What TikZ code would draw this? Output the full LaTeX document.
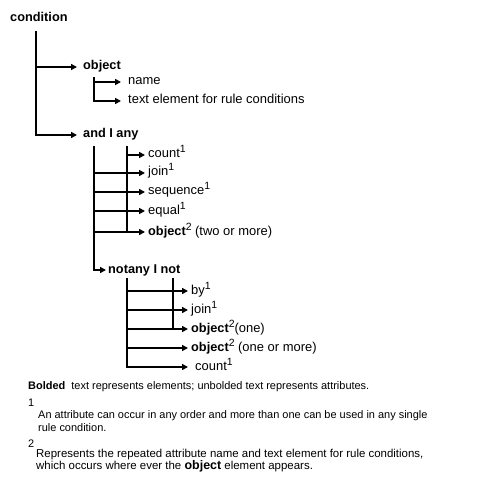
\documentclass[tikz,border=0pt]{standalone}
\usepackage{fontspec}
\setmainfont{Liberation Sans}
\usetikzlibrary{arrows.meta}
\newcommand{\elm}[1]{{\fontsize{12.8}{14}\selectfont\bfseries #1}}
\newcommand{\refnum}[1]{\raisebox{5bp}{\fontsize{10.5}{10}\selectfont #1}}

\begin{document}
\begin{tikzpicture}[x=1bp,y=-1bp,
        trunk/.style={line width=1.8bp},
        branch/.style={line width=1.8bp,-{Triangle[length=6bp,width=6bp]},shorten >=#1},
        branch/.default=3bp,
        elem/.style={anchor=west,inner sep=0pt,text height=9bp,text depth=3bp,font=\fontsize{12.8}{14}\selectfont\bfseries},
        attr/.style={anchor=west,inner sep=0pt,text height=9bp,text depth=3bp,font=\fontsize{13}{15}\selectfont},
        note/.style={anchor=west,inner sep=0pt,align=left,font=\fontsize{11}{13}\selectfont}]

        \useasboundingbox (0,0) rectangle (496,478);

        %condition
        \node[elem] (condition) at (10,19) {condition};
        \coordinate (c0) at (36,31);
        \coordinate (c1) at (36,67);
        \coordinate (c2) at (36,135);
        \node[elem] (obj) at (83,67) {object};
        \node[elem] (andany) at (83,135) {and I any};
        \draw[branch=6bp] (c0) -- (c2) -- (andany.west);
        \draw[branch=6bp] (c1) -- (obj.west);

        %object
        \coordinate (o0) at (94,77);
        \coordinate (o1) at (94,82);
        \coordinate (o2) at (94,101);
        \node[attr] (name) at (128,82) {name};
        \node[attr] (textel) at (128,101) {text element for rule conditions};
        \draw[branch=7bp] (o0) -- (o2) -- (textel.west);
        \draw[branch=7bp] (o1) -- (name.west);

        %and | any
        \coordinate (a0) at (94,146);
        \coordinate (a1) at (94,173);
        \coordinate (a2) at (94,192);
        \coordinate (a3) at (94,211);
        \coordinate (a4) at (94,232);
        \coordinate (a5) at (94,270);
        \coordinate (b0) at (127,146);
        \coordinate (b1) at (127,155);
        \coordinate (b2) at (127,232);
        \node[attr] (count) at (148,155) {count\refnum{1}};
        \node[attr] (join) at (148,173) {join\refnum{1}};
        \node[attr] (sequence) at (148,192) {sequence\refnum{1}};
        \node[attr] (equal) at (148,211) {equal\refnum{1}};
        \node[attr] (aobj) at (148,232) {\elm{object}\refnum{2} (two or more)};
        \node[elem] (notany) at (108,270) {notany I not};
        \draw[trunk] (b0) -- (b2);
        \draw[branch] (b1) -- (count.west);
        \draw[branch] (a1) -- (join.west);
        \draw[branch] (a2) -- (sequence.west);
        \draw[branch] (a3) -- (equal.west);
        \draw[branch] (a4) -- (aobj.west);
        \draw[branch=2bp] (a0) -- (a5) -- (notany.west);

        %notany | not
        \coordinate (n0) at (127,278);
        \coordinate (n1) at (127,291);
        \coordinate (n2) at (127,310);
        \coordinate (n3) at (127,329);
        \coordinate (n4) at (127,348);
        \coordinate (n5) at (127,367);
        \coordinate (m0) at (173,278);
        \coordinate (m1) at (173,329);
        \node[attr] (by) at (191,291) {by\refnum{1}};
        \node[attr] (join2) at (191,310) {join\refnum{1}};
        \node[attr] (nobj1) at (191,329) {\elm{object}\refnum{2}(one)};
        \node[attr] (nobj2) at (191,348) {\elm{object}\refnum{2} (one or more)};
        \node[attr] (count2) at (195,367) {count\refnum{1}};
        \draw[trunk] (m0) -- (m1);
        \draw[branch] (n1) -- (by.west);
        \draw[branch] (n2) -- (join2.west);
        \draw[branch] (n3) -- (nobj1.west);
        \draw[branch] (n4) -- (nobj2.west);
        \draw[branch=7bp] (n0) -- (n5) -- (count2.west);

        %notes
        \node[note] (bolded) at (28,387) {\textbf{Bolded}\ \ text represents elements; unbolded text represents attributes.};
        \node[note] (one) at (28,403) {1};
        \node[note] (onetext) at (38,421.5) {An attribute can occur in any order and more than one can be used in any single\\rule condition.};
        \node[note] (two) at (28,444) {2};
        \node[note,font=\fontsize{11.5}{12.5}\selectfont] (twotext) at (36,460.5) {Represents the repeated attribute name and text element for rule conditions,\\which occurs where ever the {\fontsize{12.5}{13}\selectfont\bfseries object} element appears.};
    \end{tikzpicture}
\end{document}
